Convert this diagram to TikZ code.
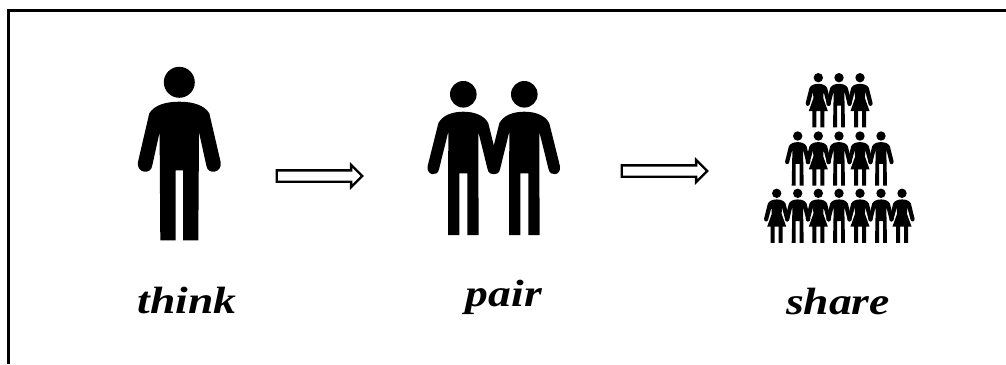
\documentclass[tikz,border=0pt]{standalone}
\usepackage{fontspec}
\usetikzlibrary{shapes.arrows}
\newfontfamily\handfont[FakeStretch=1.2]{Liberation Serif}
% figures are drawn around the centre of the head, y pointing down
\newcommand{\soloman}[2]{\fill[shift={(#1,#2)}] (0,0) circle[radius=15.5]
  (0,19.4) .. controls (14,19.4) and (25,23) .. (30,31)
  -- (41.4,80) .. controls (43,91) and (28,93) .. (27,83)
  -- (19.7,50) -- (19,158) -- (3.7,158) -- (3.7,88) -- (-3.7,88) -- (-3.7,158) -- (-19,158) -- (-19.7,50)
  -- (-27,83) .. controls (-28,93) and (-43,91) .. (-41.4,80)
  -- (-30,31) .. controls (-25,23) and (-14,19.4) .. (0,19.4) -- cycle;}
% #4 half gap between the legs, #5 outer edge of the legs
\newcommand{\manfig}[5]{\fill[shift={(#1,#2)},scale=#3] (0,0) circle[radius=13.3]
  (0,17.4) .. controls (11,17.4) and (21,21) .. (25,29)
  -- (35.7,72) .. controls (37,81.5) and (25.5,82.5) .. (24.3,75)
  -- (15,37.4) -- (#5,140.7) -- (#4,140.7) -- (#4,79) -- (-#4,79) -- (-#4,140.7) -- (-#5,140.7) -- (-15,37.4)
  -- (-24.3,75) .. controls (-25.5,82.5) and (-37,81.5) .. (-35.7,72)
  -- (-25,29) .. controls (-21,21) and (-11,17.4) .. (0,17.4) -- cycle;}
\newcommand{\womanfig}[3]{\fill[shift={(#1,#2)},scale=#3] (0,0) circle[radius=13.3]
  (0,17.4) .. controls (11,17.4) and (21,21) .. (25,29)
  -- (35.7,72) .. controls (37,81.5) and (25.5,82.5) .. (24.3,75)
  -- (15,40) -- (14,58) -- (27,94.5) -- (17,94.5) -- (17,140.7) -- (5.7,140.7) -- (5.7,94.5) -- (-5.7,94.5) -- (-5.7,140.7) -- (-17,140.7) -- (-17,94.5) -- (-27,94.5) -- (-14,58) -- (-15,40)
  -- (-24.3,75) .. controls (-25.5,82.5) and (-37,81.5) .. (-35.7,72)
  -- (-25,29) .. controls (-21,21) and (-11,17.4) .. (0,17.4) -- cycle;}
\newcommand{\smallman}[2]{\manfig{#1}{#2}{0.3525}{5.7}{17}}
\newcommand{\smallwoman}[2]{\womanfig{#1}{#2}{0.3525}}
\tikzset{
  flow/.style={single arrow,draw=black,fill=white,line width=2.3pt,inner sep=0pt,outer sep=0pt,
    minimum height=85.5pt,minimum width=21pt,text height=9pt,text width=0pt,
    single arrow head extend=5.5pt,single arrow tip angle=90,shape border rotate=0},
  hand/.style={inner sep=0pt,font=\handfont\bfseries\itshape\fontsize{38}{38}\selectfont}
}
\begin{document}
\begin{tikzpicture}[x=1pt,y=-1pt]
\useasboundingbox (0,0) rectangle (1006,364);
\fill[white] (0,0) rectangle (1006,364);
\coordinate (frameBottom) at (8.5,364);
\coordinate (frameCorner) at (8.5,10.5);
\coordinate (frameRight) at (1006,10.5);
\draw[line width=3pt,line cap=butt] (frameBottom) -- (frameCorner) -- (frameRight);
\soloman{179.3}{82.3}
\manfig{463.3}{94.3}{1}{4}{15.3}
\manfig{524.3}{94.3}{1}{4}{15.3}
\smallwoman{818.3}{77.7}
\smallman{839}{77.7}
\smallwoman{860}{77.7}
\smallman{797.7}{136}
\smallwoman{818.3}{136}
\smallman{839}{136}
\smallwoman{860}{136}
\smallman{881}{136}
\smallwoman{776.7}{193.3}
\smallman{797.7}{193.3}
\smallwoman{818.3}{193.3}
\smallman{839}{193.3}
\smallwoman{860}{193.3}
\smallman{881}{193.3}
\smallwoman{902}{193.3}
\node[flow] (arrow1) at (316.7,176) {};
\node[flow] (arrow2) at (661.7,171) {};
\node[hand] (think) at (187,300) {think};
\node[hand] (pair) at (504,297) {pair};
\node[hand] (share) at (838,302) {share};
\end{tikzpicture}
\end{document}
